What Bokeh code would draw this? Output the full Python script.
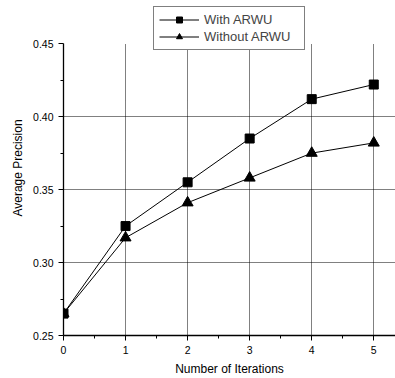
from bokeh.plotting import figure
from bokeh.models import FixedTicker, Legend, LegendItem, Range1d, CustomJSTickFormatter
from bokeh.embed import file_html
from bokeh.resources import INLINE

iterations = [0, 1, 2, 3, 4, 5]
with_arwu = [0.265, 0.325, 0.355, 0.385, 0.412, 0.422]
without_arwu = [0.265, 0.317, 0.341, 0.358, 0.375, 0.382]
x_ticks = [0, 1, 2, 3, 4, 5]
x_minor = [0.5, 1.5, 2.5, 3.5, 4.5, 5.5]
y_ticks = [0.25, 0.30, 0.35, 0.40, 0.45]
y_minor = [0.275, 0.325, 0.375, 0.425]
x_grid = [1, 2, 3, 4, 5]
y_grid = [0.30, 0.35, 0.40]
series_names = ["With ARWU", "Without ARWU"]

FONT = "Liberation Sans"
Y_MIN, Y_MAX = 0.25, 0.45

p = figure(width=395, height=378, output_backend="svg", toolbar_location=None,
           x_range=Range1d(0, 5.35), y_range=Range1d(Y_MIN, 0.4796),
           min_border_left=63, min_border_right=0, min_border_top=0, min_border_bottom=42)
p.outline_line_color = None
p.background_fill_color = "white"

p.xaxis.ticker = FixedTicker(ticks=x_ticks, minor_ticks=x_minor)
p.yaxis.ticker = FixedTicker(ticks=y_ticks, minor_ticks=y_minor)
p.yaxis.formatter = CustomJSTickFormatter(code="return tick.toFixed(2);")
p.yaxis.bounds = (Y_MIN, Y_MAX)

for ax in (p.xaxis[0], p.yaxis[0]):
    ax.axis_line_color = "black"
    ax.axis_line_width = 1.3
    ax.major_tick_line_color = "black"
    ax.minor_tick_line_color = "black"
    ax.major_tick_in = 0
    ax.major_tick_out = 5
    ax.minor_tick_in = 0
    ax.minor_tick_out = 3
    ax.major_label_text_font = FONT
    ax.major_label_text_font_size = "10.5px"
    ax.major_label_text_color = "black"
    ax.axis_label_text_font = FONT
    ax.axis_label_text_font_size = "12px"
    ax.axis_label_text_font_style = "normal"
    ax.axis_label_text_color = "black"

p.xaxis.axis_label = "Number of Iterations"
p.yaxis.axis_label = "Average Precision"

p.xgrid.ticker = FixedTicker(ticks=x_grid)
p.ygrid.ticker = FixedTicker(ticks=y_grid)
p.xgrid.cross_bounds = (Y_MIN, Y_MAX)
for g in (p.xgrid[0], p.ygrid[0]):
    g.grid_line_color = "black"
    g.grid_line_dash = "1 1"
    g.grid_line_width = 1

l1 = p.line(iterations, with_arwu, line_color="black", line_width=1)
m1 = p.scatter(iterations, with_arwu, marker="square", size=9, fill_color="black", line_color="black")
l2 = p.line(iterations, without_arwu, line_color="black", line_width=1)
m2 = p.scatter(iterations, without_arwu, marker="triangle", size=11, fill_color="black", line_color="black")

legend = Legend(items=[LegendItem(label=series_names[0], renderers=[l1, m1]),
                       LegendItem(label=series_names[1], renderers=[l2, m2])],
                location=(90, 285))
legend.border_line_color = "black"
legend.border_line_width = 1
legend.background_fill_alpha = 1
legend.label_text_font = FONT
legend.label_text_font_size = "13px"
legend.glyph_width = 40
legend.glyph_height = 15
legend.label_standoff = 5
legend.label_width = 95
legend.padding = 5
legend.spacing = 2
legend.margin = 0
legend.label_height = 15
p.add_layout(legend, "center")

open("out.html", "w").write(file_html(p, INLINE))
